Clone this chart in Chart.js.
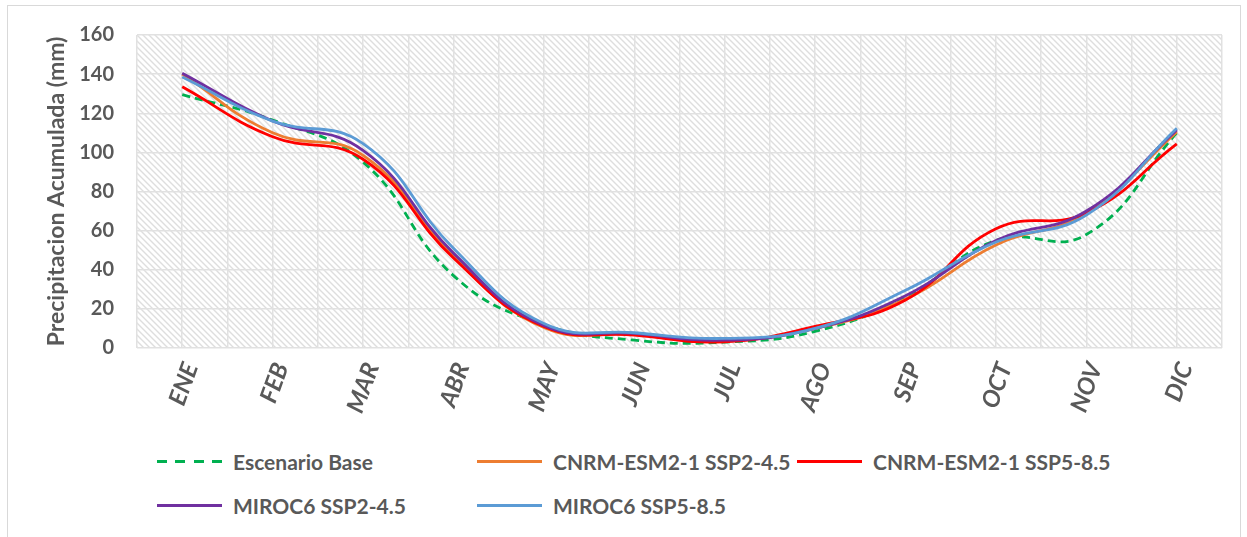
<!DOCTYPE html>
<html lang="es">
<head>
<meta charset="utf-8">
<title>Precipitación acumulada mensual</title>
<script src="https://cdn.jsdelivr.net/npm/chart.js@4.4.1/dist/chart.umd.min.js"></script>
<style>
  html, body { margin: 0; padding: 0; background: #fff; }
  body { width: 1247px; height: 537px; position: relative; overflow: hidden; font-family: Lato, "Open Sans", sans-serif; }
  #frame { position: absolute; left: 7px; top: 5px; width: 1234px; height: 560px; border: 1px solid #d9d9d9; box-sizing: border-box; }
  #chart { position: absolute; left: 0; top: 0; }
  #legend { position: absolute; left: 157px; top: 439px; display: grid; grid-template-columns: 320px 320px 320px; grid-auto-rows: 44px; }
  .item { display: flex; align-items: center; color: #595959; font-weight: bold; font-size: 21px; white-space: nowrap; }
  .swatch { width: 65px; height: 3px; margin-right: 11px; flex: none; }
</style>
</head>
<body>
<div id="frame"></div>
<canvas id="chart" width="1247" height="420"></canvas>
<div id="legend"></div>
<script>
// Monthly accumulated precipitation (mm): baseline and CMIP6 scenarios
const meses = ['ENE', 'FEB', 'MAR', 'ABR', 'MAY', 'JUN', 'JUL', 'AGO', 'SEP', 'OCT', 'NOV', 'DIC'];
const escenarioBase   = [129.5, 116.5, 95.0, 37.0, 12.0, 4.0, 3.0, 8.5, 26.0, 55.0, 58.0, 110.0];
const cnrmSsp245      = [140.0, 110.0, 98.5, 47.0, 10.5, 7.0, 4.0, 10.0, 25.0, 52.7, 69.0, 110.5];
const cnrmSsp585      = [133.5, 108.0, 96.5, 46.0, 11.0, 6.6, 3.2, 11.0, 24.5, 61.0, 69.0, 104.3];
const mirocSsp245     = [140.5, 116.0, 101.0, 48.5, 11.5, 7.5, 4.0, 10.0, 26.7, 54.9, 70.0, 111.5];
const mirocSsp585     = [138.5, 116.0, 104.5, 51.0, 12.5, 7.8, 4.9, 10.0, 29.5, 54.2, 68.0, 112.3];
const yTicks = { min: 0, max: 160, step: 20 };
const tituloY = 'Precipitacion Acumulada (mm)';

const FONT = 'Lato, "Open Sans", sans-serif';
const TEXT = '#595959';
const GRID = '#e1e1e1';

// Series in legend order; "order" puts the later models on top
const series = [
  { label: 'Escenario Base',       data: escenarioBase, color: '#00B050', dash: [8, 5], order: 5 },
  { label: 'CNRM-ESM2-1 SSP2-4.5', data: cnrmSsp245,    color: '#ED7D31', dash: [],     order: 4 },
  { label: 'CNRM-ESM2-1 SSP5-8.5', data: cnrmSsp585,    color: '#FF0000', dash: [],     order: 3 },
  { label: 'MIROC6 SSP2-4.5',      data: mirocSsp245,   color: '#7030A0', dash: [],     order: 2 },
  { label: 'MIROC6 SSP5-8.5',      data: mirocSsp585,   color: '#5B9BD5', dash: [],     order: 1 }
];

// Diagonal hatch fill for the plot area
function hatchPattern(ctx) {
  const t = document.createElement('canvas');
  t.width = 6; t.height = 6;
  const c = t.getContext('2d');
  c.strokeStyle = '#dedede';
  c.lineWidth = 1.4;
  c.beginPath();
  c.moveTo(-1, -1); c.lineTo(7, 7);
  c.moveTo(-1, 5);  c.lineTo(1, 7);
  c.moveTo(5, -1);  c.lineTo(7, 1);
  c.stroke();
  return ctx.createPattern(t, 'repeat');
}

const plotBackground = {
  id: 'plotBackground',
  beforeDraw(chart) {
    const { ctx, chartArea: a } = chart;
    ctx.save();
    ctx.fillStyle = hatchPattern(ctx);
    ctx.fillRect(a.left, a.top, a.right - a.left, a.bottom - a.top);
    ctx.restore();
  }
};

// Vertical grid at every category centre and boundary
const gridValues = [];
for (let v = -0.5; v <= meses.length - 0.5 + 1e-9; v += 0.5) gridValues.push(v);

const chart = new Chart(document.getElementById('chart'), {
  type: 'line',
  data: {
    labels: meses,
    datasets: series.map(s => ({
      label: s.label,
      data: s.data,
      xAxisID: 'x',
      yAxisID: 'y',
      borderColor: s.color,
      backgroundColor: s.color,
      borderDash: s.dash,
      borderWidth: 2.8,
      pointRadius: 0,
      tension: 0.45,
      fill: false,
      order: s.order
    }))
  },
  options: {
    responsive: false,
    animation: false,
    devicePixelRatio: 1,
    layout: { padding: { top: 35, right: 25, left: 0, bottom: 0 } },
    plugins: { legend: { display: false }, tooltip: { enabled: false } },
    scales: {
      x: {
        type: 'category',
        offset: true,
        grid: { display: false },
        border: { display: false },
        ticks: {
          color: TEXT,
          font: { family: FONT, size: 24, weight: 'bold', style: 'italic' },
          minRotation: 70,
          maxRotation: 70,
          padding: 3,
          labelOffset: 9
        },
        afterFit(s) { s.height = 72; }
      },
      xGrid: {
        type: 'linear',
        position: 'bottom',
        min: -0.5,
        max: meses.length - 0.5,
        ticks: { display: false },
        grid: { color: GRID, lineWidth: 1.5, drawTicks: false },
        border: { display: false },
        afterBuildTicks(s) { s.ticks = gridValues.map(v => ({ value: v })); },
        afterFit(s) { s.height = 0; }
      },
      y: {
        min: yTicks.min,
        max: yTicks.max,
        ticks: {
          stepSize: yTicks.step,
          color: TEXT,
          font: { family: FONT, size: 20, weight: 'bold' },
          padding: 23
        },
        grid: { color: GRID, lineWidth: 1.5, drawTicks: false },
        border: { display: false },
        title: {
          display: true,
          text: tituloY,
          color: TEXT,
          font: { family: FONT, size: 23, weight: 'bold' },
          padding: { top: 43, bottom: 0 }
        },
        afterFit(s) { s.width = 137; }
      }
    }
  },
  plugins: [plotBackground]
});

// Legend laid out in three columns, built from the same series list
const legend = document.getElementById('legend');
series.forEach(s => {
  const item = document.createElement('div');
  item.className = 'item';
  const sw = document.createElement('span');
  sw.className = 'swatch';
  sw.style.background = s.dash.length
    ? `repeating-linear-gradient(90deg, ${s.color} 0 10px, transparent 10px 18.3px)`
    : s.color;
  const tx = document.createElement('span');
  tx.textContent = s.label;
  item.appendChild(sw);
  item.appendChild(tx);
  legend.appendChild(item);
});
</script>
</body>
</html>
